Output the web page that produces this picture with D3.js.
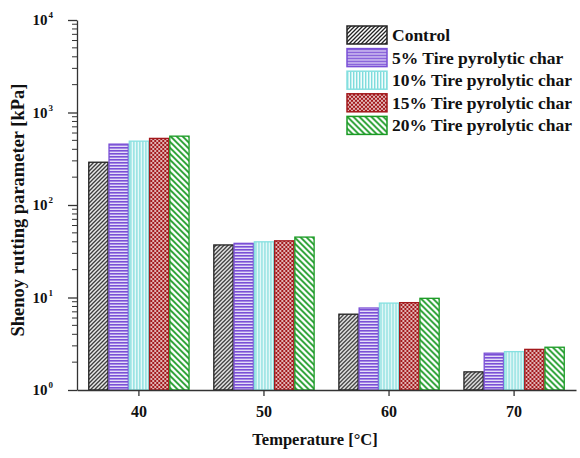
<!DOCTYPE html>
<html>
<head>
<meta charset="utf-8">
<script src="https://cdn.jsdelivr.net/npm/d3@7"></script>
<style>
  body { margin: 0; background: #fff; }
  svg text { font-family: "Liberation Serif", "Times New Roman", serif; font-weight: bold; fill: #111; }
</style>
</head>
<body>
<div id="chart"></div>
<script>
// Data
const temperatures = ["40", "50", "60", "70"];
const seriesNames = ["Control", "5% Tire pyrolytic char", "10% Tire pyrolytic char",
                     "15% Tire pyrolytic char", "20% Tire pyrolytic char"];
const control = [290, 37, 6.6, 1.57];
const char5 = [455, 38.5, 7.7, 2.5];
const char10 = [490, 40, 8.7, 2.6];
const char15 = [525, 41, 8.8, 2.75];
const char20 = [555, 45, 9.8, 2.9];
const yTicks = [1, 10, 100, 1000, 10000];

const seriesValues = [control, char5, char10, char15, char20];
const colors = ["#222222", "#7a4fd6", "#86e0e0", "#a3191c", "#1a9a24"];

const width = 580, height = 458;
const margin = { left: 77, right: 4, top: 20, bottom: 68 };

const svg = d3.select("#chart").append("svg")
    .attr("width", width)
    .attr("height", height);

// Fill patterns for each series
const defs = svg.append("defs");
function addPattern(id, w, h, draw, bg) {
    const p = defs.append("pattern")
        .attr("id", id)
        .attr("patternUnits", "userSpaceOnUse")
        .attr("width", w).attr("height", h);
    p.append("rect").attr("width", w).attr("height", h).attr("fill", bg || "#fff");
    draw(p);
    return "url(#" + id + ")";
}
const fills = [
    addPattern("pControl", 4, 4, p => {
        p.append("path").attr("d", "M-1,1 l2,-2 M0,4 l4,-4 M3,5 l2,-2")
            .attr("stroke", colors[0]).attr("stroke-width", 1.3);
    }),
    addPattern("p5", 4, 3, p => {
        p.append("rect").attr("x", 0).attr("y", 0).attr("width", 4).attr("height", 1.6)
            .attr("fill", colors[1]);
    }, "#e4dcf8"),
    addPattern("p10", 3, 4, p => {
        p.append("rect").attr("x", 0).attr("y", 0).attr("width", 1.4).attr("height", 4)
            .attr("fill", "#7fdcdc");
    }, "#f2fcfc"),
    addPattern("p15", 4, 4, p => {
        p.append("rect").attr("width", 4).attr("height", 4).attr("fill", colors[3]);
        p.append("circle").attr("cx", 1).attr("cy", 1).attr("r", 0.9).attr("fill", "#fff");
        p.append("circle").attr("cx", 3).attr("cy", 3).attr("r", 0.9).attr("fill", "#fff");
    }),
    addPattern("p20", 6, 6, p => {
        p.append("path").attr("d", "M-1,-1 l8,8 M-4,2 l6,6 M2,-4 l6,6")
            .attr("stroke", colors[4]).attr("stroke-width", 1.8);
    })
];

// Scales
const x0 = d3.scaleBand()
    .domain(temperatures)
    .range([margin.left, width - margin.right])
    .paddingInner(0.19)
    .paddingOuter(0.09);
const x1 = d3.scaleBand()
    .domain(d3.range(seriesNames.length))
    .range([0, x0.bandwidth()]);
const y = d3.scaleLog()
    .domain([1, 10000])
    .range([height - margin.bottom, margin.top]);

// Bars
const groups = svg.append("g")
    .selectAll("g")
    .data(temperatures)
    .join("g")
    .attr("transform", d => `translate(${x0(d)},0)`);

groups.selectAll("rect")
    .data((d, i) => seriesValues.map((vals, s) => ({ s: s, v: vals[i] })))
    .join("rect")
    .attr("x", d => x1(d.s) + 0.5)
    .attr("y", d => y(d.v))
    .attr("width", x1.bandwidth() - 1)
    .attr("height", d => y(1) - y(d.v))
    .attr("fill", d => fills[d.s])
    .attr("stroke", d => colors[d.s])
    .attr("stroke-width", 1.3);

// X axis
const xAxis = svg.append("g")
    .attr("transform", `translate(0,${y(1)})`)
    .call(d3.axisBottom(x0).tickSize(6).tickPadding(10).tickSizeOuter(0));
xAxis.select(".domain").attr("stroke", "#333").attr("stroke-width", 1.3);
xAxis.selectAll(".tick line").attr("stroke", "#333").attr("stroke-width", 1.3);
xAxis.selectAll(".tick text").attr("font-size", 16);

// Y axis minor ticks
const minorTicks = [];
for (let d = 1; d < 10000; d *= 10) {
    for (let k = 2; k <= 9; k++) minorTicks.push(d * k);
}
svg.append("g")
    .selectAll("line")
    .data(minorTicks)
    .join("line")
    .attr("x1", margin.left - 5)
    .attr("x2", margin.left)
    .attr("y1", d => y(d))
    .attr("y2", d => y(d))
    .attr("stroke", "#333")
    .attr("stroke-width", 1);

// Y axis
const yAxis = svg.append("g")
    .attr("transform", `translate(${margin.left},0)`)
    .call(d3.axisLeft(y).tickValues(yTicks).tickSize(9).tickSizeOuter(0).tickFormat(""));
yAxis.select(".domain").attr("stroke", "#333").attr("stroke-width", 1.3);
yAxis.selectAll(".tick line").attr("stroke", "#333").attr("stroke-width", 1.3);

// Power-of-ten labels
const yLabels = svg.append("g")
    .selectAll("text")
    .data(yTicks)
    .join("text")
    .attr("x", margin.left - 24)
    .attr("y", d => y(d) + 5)
    .attr("text-anchor", "end")
    .attr("font-size", 15);
yLabels.append("tspan").text("10");
yLabels.append("tspan")
    .attr("dx", 1)
    .attr("dy", -7)
    .attr("font-size", 9)
    .text(d => Math.round(Math.log10(d)));

// Axis titles
svg.append("text")
    .attr("x", 315)
    .attr("y", 445)
    .attr("text-anchor", "middle")
    .attr("font-size", 16.5)
    .text("Temperature [°C]");

svg.append("text")
    .attr("transform", "translate(24,210) rotate(-90)")
    .attr("text-anchor", "middle")
    .attr("font-size", 18.5)
    .text("Shenoy rutting parameter [kPa]");

// Legend
const legend = svg.append("g")
    .selectAll("g")
    .data(seriesNames)
    .join("g")
    .attr("transform", (d, i) => `translate(347,${26 + i * 22.6})`);
legend.append("rect")
    .attr("width", 40)
    .attr("height", 18)
    .attr("fill", (d, i) => fills[i])
    .attr("stroke", (d, i) => colors[i])
    .attr("stroke-width", 1.5);
legend.append("text")
    .attr("x", 45)
    .attr("y", 15)
    .attr("font-size", 17.5)
    .text(d => d);
</script>
</body>
</html>
